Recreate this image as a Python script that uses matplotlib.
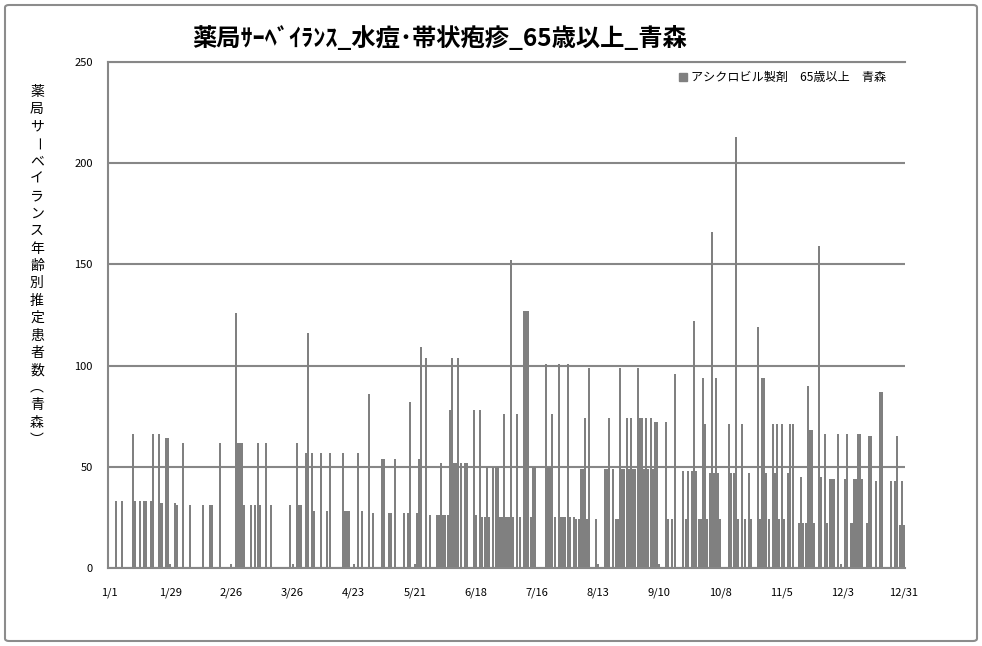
import matplotlib
matplotlib.use("Agg")
import matplotlib.pyplot as plt
from matplotlib.patches import FancyBboxPatch, Patch
import numpy as np

plt.rcParams['font.family'] = ['Noto Sans CJK JP', 'DejaVu Sans']

title = "薬局ｻｰﾍﾞｲﾗﾝｽ_水痘･帯状疱疹_65歳以上_青森"
ylabel = "薬局サーベイランス年齢別推定患者数︵青森︶"
series_name = "アシクロビル製剤　65歳以上　青森"
tick_labels = ["1/1", "1/29", "2/26", "3/26", "4/23", "5/21", "6/18",
               "7/16", "8/13", "9/10", "10/8", "11/5", "12/3", "12/31"]

# daily estimated patients, 1/1 .. 12/31 (14 days per row)
values = [
    0, 0, 0, 33, 0, 0, 33, 0, 0, 0, 0, 66, 33, 0,
    33, 0, 33, 33, 0, 33, 66, 0, 0, 66, 32, 0, 64, 64,
    2, 0, 32, 31, 0, 0, 62, 0, 0, 31, 0, 0, 0, 0,
    0, 31, 0, 0, 31, 31, 0, 0, 0, 62, 0, 0, 0, 0,
    2, 0, 126, 62, 62, 62, 31, 0, 0, 31, 0, 31, 62, 31,
    0, 0, 62, 0, 31, 0, 0, 0, 0, 0, 0, 0, 0, 31,
    2, 0, 62, 31, 31, 0, 57, 116, 0, 57, 28, 0, 0, 57,
    0, 0, 28, 57, 0, 0, 0, 0, 0, 57, 28, 28, 28, 0,
    2, 0, 57, 0, 28, 0, 0, 86, 0, 27, 0, 0, 0, 54,
    54, 0, 27, 27, 0, 54, 0, 0, 0, 27, 0, 27, 82, 0,
    2, 27, 54, 109, 0, 104, 0, 26, 0, 0, 26, 26, 52, 26,
    26, 26, 78, 104, 52, 52, 104, 52, 0, 52, 52, 0, 0, 78,
    26, 0, 78, 25, 25, 50, 25, 0, 50, 50, 50, 25, 25, 76,
    25, 25, 152, 25, 0, 76, 25, 0, 127, 127, 127, 25, 50, 50,
    0, 0, 0, 0, 101, 50, 50, 76, 25, 0, 101, 25, 25, 25,
    101, 25, 0, 25, 24, 24, 49, 49, 74, 24, 99, 0, 0, 24,
    2, 0, 0, 49, 49, 74, 0, 49, 24, 24, 99, 49, 49, 74,
    49, 74, 49, 49, 99, 74, 74, 49, 74, 49, 74, 49, 72, 72,
    2, 0, 0, 72, 24, 0, 24, 96, 0, 0, 0, 48, 24, 48,
    0, 48, 122, 48, 24, 24, 94, 71, 24, 47, 166, 47, 94, 47,
    24, 0, 0, 0, 71, 47, 47, 213, 24, 0, 71, 24, 0, 47,
    24, 0, 0, 119, 24, 94, 94, 47, 24, 0, 71, 47, 71, 24,
    71, 24, 0, 47, 71, 71, 0, 0, 22, 45, 22, 22, 90, 68,
    68, 22, 0, 159, 45, 0, 66, 22, 44, 44, 44, 0, 66, 2,
    0, 44, 66, 0, 22, 44, 44, 66, 66, 44, 0, 22, 65, 65,
    0, 43, 0, 87, 87, 0, 0, 0, 43, 0, 43, 65, 21, 43,
    21,
]

days = np.arange(len(values))
gray = '#808080'
line_gray = '#878787'

fig = plt.figure(figsize=(9.82, 6.46), dpi=100)
ax = fig.add_axes([108/982, 1-568/646, 797/982, 506/646])

ax.bar(days, values, width=0.92, color=gray, linewidth=0, antialiased=False)
ax.set_xlim(-0.5, len(values)-0.5)
ax.set_ylim(0, 250)
ax.set_yticks(np.arange(0, 251, 50))
ax.set_xticks(np.arange(0, len(values), 28))
ax.set_xticklabels(tick_labels)
ax.tick_params(axis='both', length=0, labelsize=8, colors='black')
ax.tick_params(axis='y', pad=11)
ax.tick_params(axis='x', pad=14)
ax.yaxis.grid(True, color=line_gray, linewidth=1.5)
ax.set_axisbelow(True)
for s in ['left', 'bottom', 'top']:
    ax.spines[s].set_color(line_gray)
    ax.spines[s].set_linewidth(1.5)
ax.spines['right'].set_visible(False)

fig.text(440/982, 1-38/646, title, ha='center', va='center',
         fontsize=17.5, fontweight='bold')

# vertical y label, one character per line
for i, ch in enumerate(ylabel):
    rot = -90 if ch == "ー" else 0
    fig.text(37/982, 1-(92 + i*17.4)/646, ch, ha='center', va='center',
             fontsize=10, rotation=rot)

ax.legend([Patch(color=gray)], [series_name], loc='upper left',
          bbox_to_anchor=(679/982, 1-71/646), bbox_transform=fig.transFigure,
          frameon=False, fontsize=8.7, handlelength=0.7, handleheight=0.7,
          handletextpad=0.3, borderpad=0, borderaxespad=0)

border = FancyBboxPatch((5/982, 5/646), 972/982, 636/646, transform=fig.transFigure,
                        boxstyle="round,pad=0,rounding_size=0.004",
                        fill=False, edgecolor='#8c8c8c', linewidth=1.5)
fig.patches.append(border)

fig.savefig("out.png", dpi=100)
